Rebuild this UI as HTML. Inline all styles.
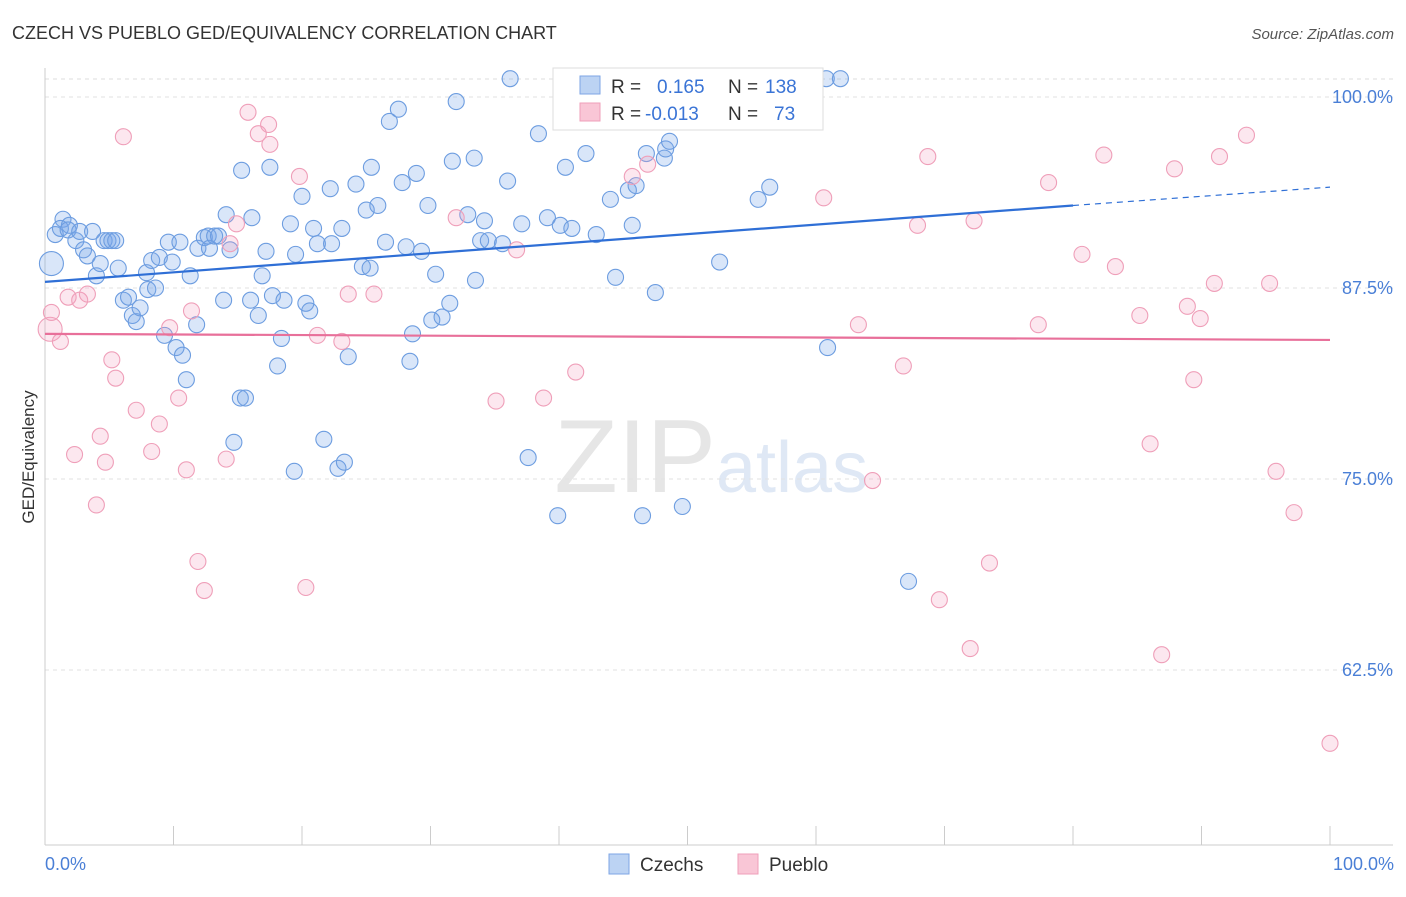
<!DOCTYPE html>
<html><head><meta charset="utf-8"><style>
body{margin:0;background:#fff;font-family:"Liberation Sans",sans-serif}
svg text{font-family:"Liberation Sans",sans-serif}
</style></head><body>
<svg id="chart" width="1406" height="892" xmlns="http://www.w3.org/2000/svg">
<text x="12" y="39" font-size="18" fill="#333">CZECH VS PUEBLO GED/EQUIVALENCY CORRELATION CHART</text>
<text x="1394" y="39" font-size="15" fill="#555" text-anchor="end" font-style="italic">Source: ZipAtlas.com</text>
<text x="716" y="492" font-size="104" fill="#e6e6e6" text-anchor="end" font-family="Liberation Serif">ZIP</text>
<text x="716" y="492" font-size="72" fill="#dfe8f5">atlas</text>
<g id="grid"></g><g id="axes"></g><g id="pts"></g><g id="trend"></g>
<text transform="translate(34,457) rotate(-90)" font-size="17" fill="#333" text-anchor="middle">GED/Equivalency</text>
<text x="45" y="870" font-size="18" fill="#4a7fd6">0.0%</text>
<text x="1394" y="870" font-size="18" fill="#4a7fd6" text-anchor="end">100.0%</text>
<g>
<rect x="553" y="68" width="270" height="62" fill="#fff" stroke="#ddd"/>
<rect x="580" y="76" width="20" height="18" fill="#bcd3f3" stroke="#7ea6e4"/>
<rect x="580" y="103" width="20" height="18" fill="#f9c6d6" stroke="#ef9fb9"/>
<text x="611" y="93" font-size="19" fill="#333">R =</text>
<text x="657" y="93" font-size="19" fill="#3a74d6">0.165</text>
<text x="728" y="93" font-size="19" fill="#333">N =</text>
<text x="765" y="93" font-size="19" fill="#3a74d6">138</text>
<text x="611" y="120" font-size="19" fill="#333">R =</text>
<text x="645" y="120" font-size="19" fill="#3a74d6">-0.013</text>
<text x="728" y="120" font-size="19" fill="#333">N =</text>
<text x="774" y="120" font-size="19" fill="#3a74d6">73</text>
</g>
<g>
<rect x="609" y="854" width="20" height="20" fill="#bcd3f3" stroke="#7ea6e4"/>
<text x="640" y="871" font-size="19" fill="#333">Czechs</text>
<rect x="738" y="854" width="20" height="20" fill="#f9c6d6" stroke="#ef9fb9"/>
<text x="769" y="871" font-size="19" fill="#333">Pueblo</text>
</g>
</svg>
<script>
const yTicks=[100,87.5,75,62.5];
const yTickLabels=["100.0%","87.5%","75.0%","62.5%"];
const xTicks=[0,10,20,30,40,50,60,70,80,90,100];
const czechX=[0.5,0.8,1.4,1.2,1.9,1.8,2.4,2.7,3.0,3.3,3.7,4.0,4.3,4.6,4.9,5.2,5.5,5.7,6.1,6.5,6.8,7.1,7.4,7.9,8.0,8.3,8.6,8.9,9.3,9.6,9.9,10.2,10.5,10.7,11.0,11.3,11.8,11.9,12.4,12.7,12.8,13.2,13.5,13.9,14.1,14.4,14.7,15.2,15.3,15.6,16.0,16.1,16.6,16.9,17.2,17.5,17.7,18.1,18.4,18.6,19.1,19.4,19.5,20.0,20.3,20.6,20.9,21.2,21.7,22.2,22.3,22.8,23.1,23.3,23.6,24.2,24.7,25.0,25.3,25.4,25.9,26.5,26.8,27.5,27.8,28.1,28.4,28.6,28.9,29.3,29.8,30.1,30.4,30.9,31.5,31.7,32.0,32.9,33.4,33.5,33.9,34.2,34.5,35.6,36.0,36.2,37.1,37.6,38.4,39.1,39.9,40.1,40.5,41.0,42.1,42.9,44.0,44.4,45.4,45.7,46.0,46.5,46.8,47.5,48.2,48.3,48.6,49.6,52.5,55.5,56.4,60.8,60.9,61.9,67.2];
const czechY=[89.1,91.0,92.0,91.4,91.6,91.3,90.6,91.2,90.0,89.6,91.2,88.3,89.1,90.6,90.6,90.6,90.6,88.8,86.7,86.9,85.7,85.3,86.2,88.5,87.4,89.3,87.5,89.5,84.4,90.5,89.2,83.6,90.5,83.1,81.5,88.3,85.1,90.1,90.8,90.9,90.1,90.9,90.9,86.7,92.3,90.0,77.4,80.3,95.2,80.3,86.7,92.1,85.7,88.3,89.9,95.4,87.0,82.4,84.2,86.7,91.7,75.5,89.7,93.5,86.5,86.0,91.4,90.4,77.6,94.0,90.4,75.7,91.4,76.1,83.0,94.3,88.9,92.6,88.8,95.4,92.9,90.5,98.4,99.2,94.4,90.2,82.7,84.5,95.0,89.9,92.9,85.4,88.4,85.6,86.5,95.8,99.7,92.3,96.0,88.0,90.6,91.9,90.6,90.4,94.5,101.2,91.7,76.4,97.6,92.1,72.6,91.6,95.4,91.4,96.3,91.0,93.3,88.2,93.9,91.6,94.2,72.6,96.3,87.2,96.0,96.6,97.1,73.2,89.2,93.3,94.1,101.2,83.6,101.2,68.3];
const puebloX=[0.4,0.5,1.2,1.8,2.3,2.7,3.3,4.0,4.3,4.7,5.2,5.5,6.1,7.1,8.3,8.9,9.7,10.4,11.0,11.4,11.9,12.4,14.1,14.4,14.9,15.8,16.6,17.4,17.5,19.8,20.3,21.2,23.1,23.6,25.6,32.0,35.1,36.7,38.8,41.3,45.7,46.9,60.6,63.3,64.4,66.8,67.9,68.7,69.6,72.0,72.3,73.5,77.3,78.1,80.7,82.4,83.3,85.2,86.0,86.9,87.9,88.9,89.4,89.9,91.0,91.4,93.5,95.3,95.8,97.2,100];
const puebloY=[84.8,85.9,84.0,86.9,76.6,86.7,87.1,73.3,77.8,76.1,82.8,81.6,97.4,79.5,76.8,78.6,84.9,80.3,75.6,86.0,69.6,67.7,76.3,90.4,91.7,99.0,97.6,98.2,96.9,94.8,67.9,84.4,84.0,87.1,87.1,92.1,80.1,90.0,80.3,82.0,94.8,95.6,93.4,85.1,74.9,82.4,91.6,96.1,67.1,63.9,91.9,69.5,85.1,94.4,89.7,96.2,88.9,85.7,77.3,63.5,95.3,86.3,81.5,85.5,87.8,96.1,97.5,87.8,75.5,72.8,57.7];
const czechTrendX=[0,80,100];
const czechTrendY=[87.9,92.9,94.1];
const puebloTrendX=[0,100];
const puebloTrendY=[84.5,84.1];
const NS="http://www.w3.org/2000/svg";
const xs=v=>45+v*12.85;
const ys=v=>97+(100-v)*15.28;
function mk(tag,attrs,parent){const e=document.createElementNS(NS,tag);for(const k in attrs)e.setAttribute(k,attrs[k]);document.getElementById(parent).appendChild(e);return e;}
let g=mk('line',{x1:45,x2:1393,y1:79,y2:79,stroke:'#ddd','stroke-dasharray':'4,4'},'grid');


yTicks.forEach((t,i)=>{
 const l=mk('line',{x1:45,x2:1393,y1:ys(t),y2:ys(t),stroke:'#e2e2e2','stroke-dasharray':'4,4'},'grid');
 
 
 const tx=mk('text',{x:1393,y:ys(t)+6,'font-size':18,fill:'#4a7fd6','text-anchor':'end'},'grid');
 tx.textContent=yTickLabels[i];
 
 
});
let ax=mk('line',{x1:45,x2:45,y1:68,y2:845,stroke:'#ccc'},'axes');


ax=mk('line',{x1:45,x2:1393,y1:845,y2:845,stroke:'#ccc'},'axes');


xTicks.forEach(t=>{
 const l=mk('line',{x1:xs(t),x2:xs(t),y1:826,y2:845,stroke:'#ccc'},'axes');
 
 
});
czechX.forEach((x,i)=>{
 const c=mk('circle',{cx:xs(x),cy:ys(czechY[i]),r:i===0?12:8,fill:'rgba(120,165,235,0.28)',stroke:'#6d9de0','stroke-width':1.1},'pts');
 
 
});
puebloX.forEach((x,i)=>{
 const c=mk('circle',{cx:xs(x),cy:ys(puebloY[i]),r:i===0?12:8,fill:'rgba(245,160,190,0.25)',stroke:'#ef9fb9','stroke-width':1.1},'pts');
 
 
});
let t=mk('line',{x1:xs(czechTrendX[0]),y1:ys(czechTrendY[0]),x2:xs(czechTrendX[1]),y2:ys(czechTrendY[1]),stroke:'#2f6fd6','stroke-width':2.2},'trend');


t=mk('line',{x1:xs(czechTrendX[1]),y1:ys(czechTrendY[1]),x2:xs(czechTrendX[2]),y2:ys(czechTrendY[2]),stroke:'#2f6fd6','stroke-width':1.2,'stroke-dasharray':'6,5'},'trend');


t=mk('line',{x1:xs(puebloTrendX[0]),y1:ys(puebloTrendY[0]),x2:xs(puebloTrendX[1]),y2:ys(puebloTrendY[1]),stroke:'#e8709a','stroke-width':2.2},'trend');


</script>
</body></html>
